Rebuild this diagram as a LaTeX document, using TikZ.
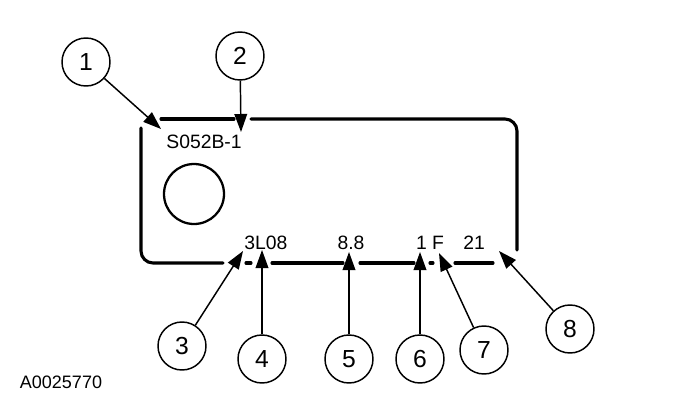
\documentclass[tikz,border=0pt]{standalone}
\usepackage{fontspec}
\setmainfont{Liberation Sans}
\usetikzlibrary{arrows.meta}
\tikzset{
	callout/.style={circle, draw, line width=1.1pt, minimum size=36pt,
		inner sep=0pt, font=\fontsize{18.5}{18.5}\selectfont},
	codetext/.style={inner sep=0pt, font=\fontsize{14.5}{14.5}\selectfont},
	rim/.style={line width=2.3pt, line cap=round},
	arr/.style={-{Triangle[length=13.5pt, width=9.5pt]}, line width=1.1pt},
}
\begin{document}
\begin{tikzpicture}[x=0.75pt, y=-0.75pt]
	\useasboundingbox (0,0) rectangle (688,400);
	% label outline
	\draw[rim, rounded corners=9pt] (141,128) |- (223,263);
	\draw[rim] (161,119) -- (234,119);
	\draw[rim, rounded corners=9pt] (251,119) -| (517,250);
	\draw[rim] (246,263) -- (251,263);
	\draw[rim] (272,263) -- (343,263);
	\draw[rim] (360,263) -- (414,263);
	\draw[rim] (430,263) -- (433,263);
	\draw[rim] (455,263) -- (493,263);
	\draw[line width=1.7pt] (194,194) circle[radius=30];
	% printed codes
	\node[codetext] (code) at (204,142) {S052B-1};
	\node[codetext] (eng) at (266,243) {3L08};
	\node[codetext] (size) at (351,243) {8.8};
	\node[codetext] (plant) at (430,243) {1 F};
	\node[codetext] (day) at (474,243) {21};
	\node[codetext, font=\fontsize{13.5}{13.5}\selectfont] (fig) at (61,382) {A0025770};
	% callouts
	\node[callout] (c1) at (86,62) {1};
	\node[callout] (c2) at (240,56) {2};
	\node[callout] (c3) at (182,346) {3};
	\node[callout] (c4) at (262,359) {4};
	\node[callout] (c5) at (349,359) {5};
	\node[callout] (c6) at (420,359) {6};
	\node[callout] (c7) at (484,350) {7};
	\node[callout] (c8) at (570,329) {8};
	\coordinate (t1) at (161,129);
	\coordinate (t2) at (241,132);
	\coordinate (t3) at (243,251);
	\coordinate (t4) at (262,250);
	\coordinate (t5) at (349,252);
	\coordinate (t6) at (420,252);
	\coordinate (t7) at (439,253);
	\coordinate (t8) at (499,251);
	\foreach \i in {1,...,8}
		\draw[arr] (c\i) -- (t\i);
\end{tikzpicture}
\end{document}
